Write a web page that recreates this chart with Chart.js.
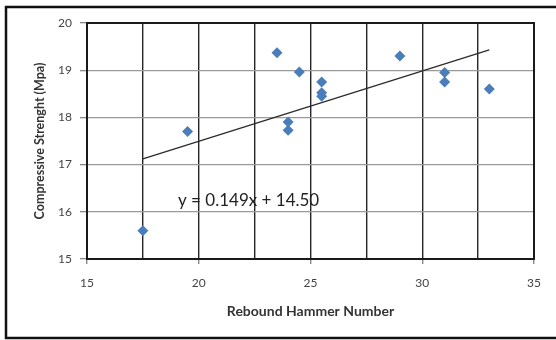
<!DOCTYPE html>
<html>
<head>
<meta charset="utf-8">
<script src="https://cdn.jsdelivr.net/npm/chart.js@4.4.1/dist/chart.umd.min.js"></script>
<style>
  body { margin: 0; background: #fff; }
  #wrap { width: 556px; height: 340px; }
</style>
</head>
<body>
<div id="wrap"><canvas id="chart" width="556" height="340"></canvas></div>
<script>
// rebound hammer readings vs compressive strength
const hammerX = [17.5, 19.5, 23.5, 24.5, 24, 24, 25.5, 25.5, 25.5, 29, 31, 31, 33];
const strengthY = [15.6, 17.7, 19.37, 18.96, 17.9, 17.73, 18.75, 18.52, 18.45, 19.3, 18.95, 18.75, 18.6];

// trendline end points as drawn
const trendX = [17.5, 33];
const trendY = [17.12, 19.43];

const xTicks = [15, 20, 25, 30, 35];
const yTicks = [15, 16, 17, 18, 19, 20];
const equation = "y = 0.149x + 14.50";

const FONT = "Lato, 'Open Sans', sans-serif";

const frame = {
    id: "frame",
    afterDraw(c) {
        const ctx = c.ctx;
        const a = c.chartArea;
        ctx.save();
        // plot box
        ctx.strokeStyle = "#1a1a1a";
        ctx.lineWidth = 2;
        ctx.strokeRect(a.left, a.top, a.right - a.left, a.bottom - a.top);
        // outer chart border
        ctx.strokeStyle = "#111";
        ctx.lineWidth = 2.5;
        ctx.strokeRect(6, 7, 560, 331);
        // equation label
        const sx = c.scales.x, sy = c.scales.y;
        ctx.fillStyle = "#222";
        ctx.font = "17px " + FONT;
        ctx.textBaseline = "middle";
        ctx.fillText(equation, sx.getPixelForValue(19.07), sy.getPixelForValue(16.23));
        ctx.restore();
    }
};

chart = new Chart(document.getElementById("chart").getContext("2d"), {
    type: "scatter",
    data: {
        datasets: [{
            data: hammerX.map((x, i) => ({x: x, y: strengthY[i]})),
            pointStyle: "rectRot",
            pointRadius: 5.5,
            backgroundColor: "#4a7ebb",
            borderColor: "#4a7ebb",
            borderWidth: 0
        }, {
            type: "line",
            data: trendX.map((x, i) => ({x: x, y: trendY[i]})),
            borderColor: "#2a2a2a",
            borderWidth: 1.2,
            pointRadius: 0,
            fill: false
        }]
    },
    options: {
        responsive: false,
        animation: false,
        layout: { padding: { left: 24, right: 22, top: 23, bottom: 14 } },
        plugins: { legend: { display: false }, tooltip: { enabled: false } },
        scales: {
            x: {
                min: 15, max: 35,
                afterFit: s => { s.height = 67; },
                afterBuildTicks: s => {
                    const t = [];
                    for (let v = 15; v <= 35; v += 2.5) t.push({value: v});
                    s.ticks = t;
                },
                ticks: {
                    callback: v => xTicks.includes(v) ? v : "",
                    autoSkip: false,
                    maxRotation: 0,
                    color: "#444",
                    padding: 12,
                    font: { family: FONT, size: 12 }
                },
                grid: {
                    color: "#262626",
                    lineWidth: 1.4,
                    tickLength: 5,
                    tickColor: ctx => xTicks.includes(ctx.tick && ctx.tick.value) ? "#888" : "rgba(0,0,0,0)"
                },
                border: { display: false },
                title: {
                    display: true,
                    text: "Rebound Hammer Number",
                    color: "#333",
                    padding: { top: 0, bottom: 6 },
                    font: { family: FONT, size: 14, weight: "bold" }
                }
            },
            y: {
                min: 15, max: 20,
                afterFit: s => { s.width = 63; },
                afterBuildTicks: s => { s.ticks = yTicks.map(v => ({value: v})); },
                ticks: {
                    color: "#444",
                    padding: 8,
                    font: { family: FONT, size: 12 }
                },
                grid: {
                    color: "#9a9a9a",
                    lineWidth: 1.3,
                    tickLength: 7,
                    tickColor: "#888"
                },
                border: { display: false },
                title: {
                    display: true,
                    text: "Compressive Strenght (Mpa)",
                    color: "#333",
                    padding: { top: 8, bottom: 0 },
                    font: { family: FONT, size: 12.5, weight: "bold" }
                }
            }
        }
    },
    plugins: [frame]
});
</script>
</body>
</html>
